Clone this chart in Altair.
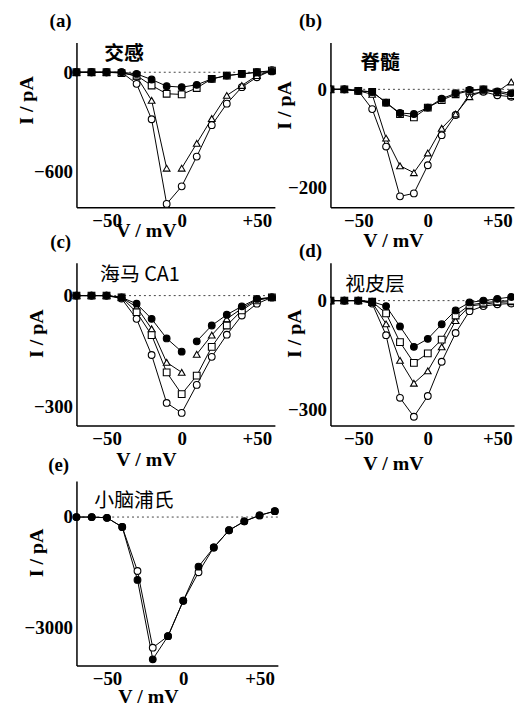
import altair as alt
import pandas as pd

# membrane potential steps (mV)
V = [-70, -60, -50, -40, -30, -20, -10, 0, 10, 20, 30, 40, 50, 60]

# (a) 交感
a_fc = [0, 0, 0, 0, -10, -44, -84, -90, -76, -40, -20, -10, 0, 5]
a_sq = [0, 0, 0, -5, -20, -80, -130, -134, -95, -40, -20, -10, 0, 10]
a_tri = [0, 0, 0, 0, -25, -170, -580, -580, -430, -280, -140, -80, -20, 10]
a_oc = [0, 0, 0, 0, -70, -284, -796, -690, -510, -320, -190, -90, -30, 12]

# (b) 脊髓
b_fc = [0, 0, -3, -5, -27, -48, -50, -37, -19, -8, -1, 0, -4, -8]
b_sq = [0, 0, -3, -5, -27, -50, -57, -37, -22, -10, -3, 0, -6, -12]
b_tri = [0, 0, -3, -10, -99, -155, -169, -129, -79, -50, -15, -3, -5, 15]
b_oc = [0, 0, -3, -40, -116, -217, -211, -154, -93, -52, -10, -5, -12, -15]

# (c) 海马 CA1
c_fc = [0, 0, 0, -5, -22, -63, -116, -152, -124, -81, -52, -29, -9, -5]
c_tri = [0, 0, 0, -5, -31, -90, -181, -208, -159, -107, -63, -35, -10, -5]
c_sq = [0, 0, 0, -5, -45, -107, -208, -267, -217, -139, -81, -40, -13, -5]
c_oc = [0, 0, 0, -8, -63, -161, -291, -318, -242, -166, -106, -54, -22, -5]

# (d) 视皮层
d_fc = [0, 0, 0, -3, -15, -71, -127, -105, -65, -27, -5, 0, 5, 10]
d_sq = [0, 0, 0, -3, -35, -114, -171, -145, -107, -41, -12, -6, -2, 0]
d_tri = [0, 0, 0, -5, -64, -164, -227, -193, -127, -55, -15, -10, -5, -3]
d_oc = [0, 0, 0, -8, -95, -267, -319, -262, -168, -89, -29, -15, -10, -8]

# (e) 小脑浦氏
e_oc = [0, 0, -20, -270, -1460, -3537, -3224, -2266, -1495, -824, -358, -117, 45, 160]
e_fc = [0, 0, -20, -270, -1702, -3851, -3224, -2266, -1343, -824, -358, -117, 45, 160]

SHAPES = {"oc": "circle", "tri": "triangle-up", "sq": "square", "fc": "circle"}
FILLS = {"oc": "white", "tri": "white", "sq": "white", "fc": "black"}
KEYS = ["oc", "tri", "sq", "fc"]

SERIF = "Liberation Serif"
CJK = "Noto Sans CJK SC"


def build_df(series, breaks):
    rows = []
    for key in KEYS:
        if key not in series:
            continue
        seg = 0
        for v, i in zip(V, series[key]):
            if v in breaks.get(key, []):
                seg += 1
            rows.append({"V": v, "I": i, "s": key, "k": f"{key}{seg}"})
    return pd.DataFrame(rows)


def panel(series, breaks, ydom, yticks, w, h, letter, name, name_bold,
          lpos, npos, ytitle, xtitle, clip=False):
    df = build_df(series, breaks)
    xax = alt.Axis(values=[-50, 0, 50],
                   labelExpr="datum.value > 0 ? '+' + datum.label : datum.label",
                   title="V / mV", titleX=xtitle[0], titleY=xtitle[1],
                   titleAlign="center", titleBaseline="top",
                   labelOverlap=False, labelFlush=False)
    yax = alt.Axis(values=yticks, format="d", title="I / pA",
                   titleX=ytitle[0], titleY=ytitle[1],
                   titleAngle=-90, titleAlign="center", titleBaseline="bottom",
                   labelOverlap=False)
    X = alt.X("V:Q", scale=alt.Scale(domain=[-70, 62], nice=False, zero=False), axis=xax)
    Y = alt.Y("I:Q", scale=alt.Scale(domain=ydom, nice=False, zero=False), axis=yax)

    zero = alt.Chart(pd.DataFrame({"I": [0]})).mark_rule(
        strokeDash=[2, 3], color="#444", strokeWidth=1).encode(y=Y)
    lines = alt.Chart(df).mark_line(color="black", strokeWidth=1, clip=clip).encode(
        x=X, y=Y, detail="k:N", order="V:Q")
    pts = alt.Chart(df).mark_point(size=46, opacity=1, filled=True, stroke="black",
                                   strokeWidth=1.1, clip=clip).encode(
        x=X, y=Y,
        shape=alt.Shape("s:N", scale=alt.Scale(domain=KEYS, range=[SHAPES[k] for k in KEYS]), legend=None),
        fill=alt.Fill("s:N", scale=alt.Scale(domain=KEYS, range=[FILLS[k] for k in KEYS]), legend=None),
    )
    lab = alt.Chart(pd.DataFrame({"t": [letter]})).mark_text(
        font=SERIF, fontWeight="bold", fontSize=19, align="center", baseline="middle",
        color="black").encode(text="t:N", x=alt.value(lpos[0]), y=alt.value(lpos[1]))
    nm = alt.Chart(pd.DataFrame({"t": [name]})).mark_text(
        font=CJK, fontWeight="bold" if name_bold else "normal", fontSize=20,
        align="center", baseline="middle", color="black").encode(
        text="t:N", x=alt.value(npos[0]), y=alt.value(npos[1]))
    return alt.layer(zero, lines, pts, lab, nm).properties(width=w, height=h)


pa = panel({"oc": a_oc, "tri": a_tri, "sq": a_sq, "fc": a_fc}, {"tri": [0]},
           [-816, 180], [0, -600], 200, 166, "(a)", "交感", True,
           (-16, -22), (48, 12), (-40, 58), (70, 14))
pb = panel({"oc": b_oc, "tri": b_tri, "sq": b_sq, "fc": b_fc}, {},
           [-239, 95], [0, -200], 185, 166, "(b)", "脊髓", True,
           (-20, -22), (50, 21), (-36, 63), (63, 24), clip=True)
pc = panel({"oc": c_oc, "sq": c_sq, "tri": c_tri, "fc": c_fc}, {"fc": [10], "tri": [10]},
           [-352, 89], [0, -300], 200, 164, "(c)", "海马 CA1", False,
           (-16, -21), (64, 12), (-30, 71), (70, 24))
pd_ = panel({"oc": d_oc, "tri": d_tri, "sq": d_sq, "fc": d_fc}, {},
            [-343, 104], [0, -300], 185, 164, "(d)", "视皮层", False,
            (-20, -12), (45, 22), (-26, 71), (63, 28), clip=True)
pe = panel({"oc": e_oc, "fc": e_fc}, {},
           [-4021, 975], [0, -3000], 203, 186, "(e)", "小脑浦氏", False,
           (-18, -16), (58, 20), (-30, 72), (72, 21))

chart = alt.concat(pa, pb, pc, pd_, pe, columns=2, spacing={"row": 56, "column": 53},
                   bounds="flush", align="each").properties(
    padding={"left": 8, "top": 1, "right": 0, "bottom": 0}
).configure_view(stroke=None).configure_axis(
    labelFont=SERIF, labelFontWeight="bold", labelFontSize=19, labelColor="black",
    titleFont=SERIF, titleFontWeight="bold", titleFontSize=20, titleColor="black",
    domainColor="black", domainWidth=1.5, ticks=False, grid=False, labelPadding=4,
)

chart.save("out.html", embed_options={"renderer": "svg", "actions": False})
